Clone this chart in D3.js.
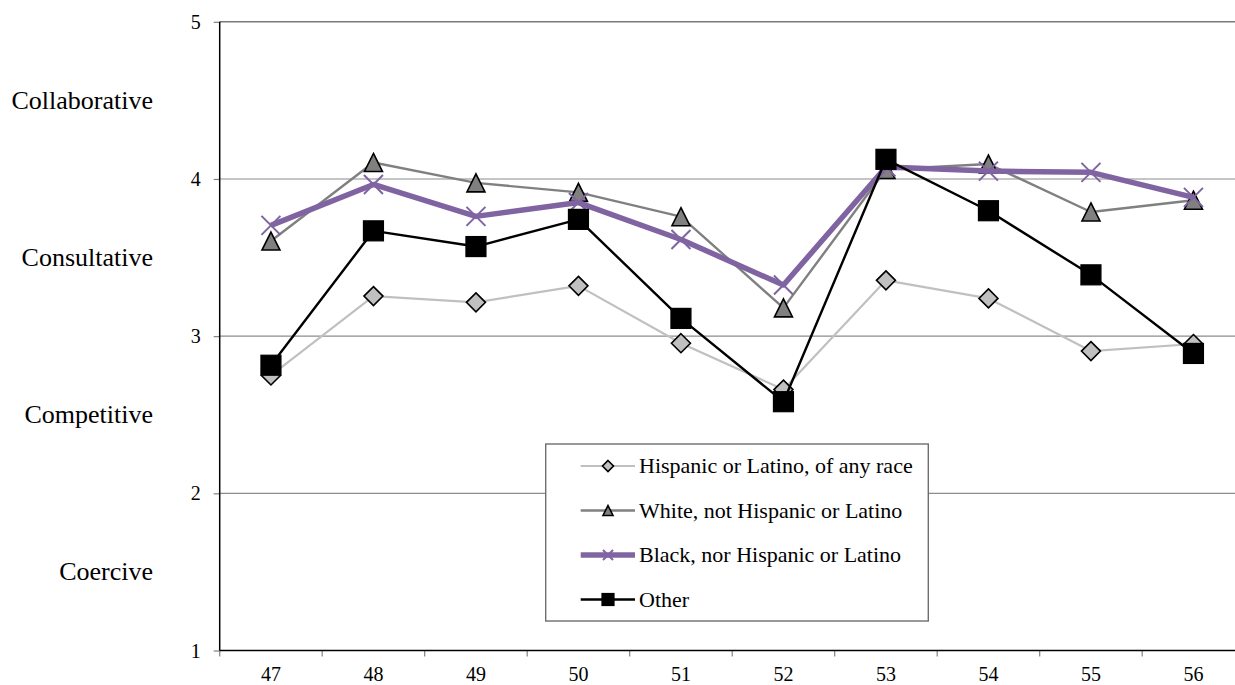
<!DOCTYPE html>
<html>
<head>
<meta charset="utf-8">
<script src="https://cdn.jsdelivr.net/npm/d3@7/dist/d3.min.js"></script>
<style>
  html, body { margin: 0; padding: 0; background: #fff; }
  svg { display: block; }
  text { font-family: "Liberation Serif", "Times New Roman", serif; fill: #000; }
</style>
</head>
<body>
<svg id="chart" width="1235" height="685"></svg>
<script>
const categories = ["47", "48", "49", "50", "51", "52", "53", "54", "55", "56"];
const hispanic = [2.75, 3.255, 3.215, 3.32, 2.955, 2.66, 3.355, 3.24, 2.905, 2.95];
const white    = [3.605, 4.105, 3.975, 3.915, 3.76, 3.18, 4.06, 4.095, 3.79, 3.865];
const black    = [3.705, 3.965, 3.762, 3.85, 3.615, 3.325, 4.076, 4.05, 4.042, 3.883];
const other    = [2.815, 3.67, 3.57, 3.743, 3.113, 2.583, 4.125, 3.798, 3.39, 2.89];
const yTicks = [1, 2, 3, 4, 5];
const styleLabels = [
  { label: "Collaborative", v: 4.5 },
  { label: "Consultative", v: 3.5 },
  { label: "Competitive", v: 2.5 },
  { label: "Coercive", v: 1.5 }
];
const seriesNames = [
  "Hispanic or Latino, of any race",
  "White, not Hispanic or Latino",
  "Black, nor Hispanic or Latino",
  "Other"
];

(function () {
const FONT = '"Liberation Serif", "Times New Roman", serif';
const svg = d3.select("#chart");
const mLeft = 219.7, mRight = 1244.7, mTop = 21.8, mBottom = 650.5;

const x = d3.scaleBand().domain(categories).range([mLeft, mRight]);
const y = d3.scaleLinear().domain([1, 5]).range([mBottom, mTop]);

// gridlines
svg.append("g").selectAll("line").data(yTicks.filter(d => d > 1)).join("line")
  .attr("x1", mLeft).attr("x2", 1235)
  .attr("y1", d => y(d)).attr("y2", d => y(d))
  .attr("stroke", d => d === 5 ? "#7a7a7a" : "#8c8c8c")
  .attr("stroke-width", d => d === 5 ? 1.6 : 1.2);

// y axis
const yAxis = d3.axisLeft(y).tickValues(yTicks).tickFormat(d3.format("d")).tickSize(6).tickPadding(13);
const gy = svg.append("g").attr("transform", `translate(${mLeft},0)`).call(yAxis);
gy.attr("font-family", FONT);
gy.select(".domain").remove();
gy.selectAll(".tick line").attr("stroke", "#808080").attr("stroke-width", 1.2);
gy.selectAll(".tick text").attr("font-size", 20).attr("dy", "0.33em")
  .style("font-family", FONT).attr("fill", "#000");

// x axis labels
const xAxis = d3.axisBottom(x).tickSize(0).tickPadding(16);
const gx = svg.append("g").attr("transform", `translate(0,${mBottom})`).call(xAxis);
gx.attr("font-family", FONT);
gx.select(".domain").remove();
gx.selectAll(".tick text").attr("font-size", 20)
  .style("font-family", FONT).attr("fill", "#000");

// x tick marks at band boundaries
const bounds = categories.map(c => x(c)).concat([x(categories[categories.length - 1]) + x.bandwidth()]);
svg.append("g").selectAll("line").data(bounds).join("line")
  .attr("x1", d => d).attr("x2", d => d)
  .attr("y1", mBottom).attr("y2", mBottom + 6)
  .attr("stroke", "#808080").attr("stroke-width", 1.2);

// axis lines
svg.append("line").attr("x1", mLeft).attr("x2", mLeft).attr("y1", mTop).attr("y2", mBottom)
  .attr("stroke", "#000").attr("stroke-width", 1.5);
svg.append("line").attr("x1", mLeft).attr("x2", 1235).attr("y1", mBottom).attr("y2", mBottom)
  .attr("stroke", "#000").attr("stroke-width", 1.5);

// style labels
svg.append("g").selectAll("text").data(styleLabels).join("text")
  .attr("x", 153).attr("y", d => y(d.v)).attr("dy", "0.33em")
  .attr("text-anchor", "end").attr("font-size", 26)
  .style("font-family", FONT)
  .text(d => d.label);

const cx = i => x(categories[i]) + x.bandwidth() / 2;

function marker(g, type, s) {
  if (type === "diamond") {
    g.append("path").attr("d", `M0,${-s}L${s},0L0,${s}L${-s},0Z`)
      .attr("fill", "#c0c0c0").attr("stroke", "#000").attr("stroke-width", 1.6);
  } else if (type === "triangle") {
    g.append("path").attr("d", `M0,${-s}L${s},${s}L${-s},${s}Z`)
      .attr("fill", "#808080").attr("stroke", "#000").attr("stroke-width", 1.6);
  } else if (type === "x") {
    g.append("path").attr("d", `M${-s},${-s}L${s},${s}M${-s},${s}L${s},${-s}`)
      .attr("stroke", "#8064a2").attr("stroke-width", 2).attr("fill", "none");
  } else if (type === "square") {
    g.append("rect").attr("x", -s).attr("y", -s).attr("width", 2 * s).attr("height", 2 * s)
      .attr("fill", "#000").attr("stroke", "#000").attr("stroke-width", 1.2);
  }
}

const series = [
  { name: seriesNames[0], values: hispanic, color: "#c0c0c0", width: 2.2, type: "diamond", size: 9.5, lsize: 5.5 },
  { name: seriesNames[1], values: white, color: "#808080", width: 2.4, type: "triangle", size: 9, lsize: 5 },
  { name: seriesNames[2], values: black, color: "#8064a2", width: 5.5, type: "x", size: 9.5, lsize: 5 },
  { name: seriesNames[3], values: other, color: "#000", width: 2.4, type: "square", size: 10, lsize: 6 }
];

const line = d3.line().x((d, i) => cx(i)).y(d => y(d));

series.forEach(s => {
  const g = svg.append("g");
  g.append("path").datum(s.values).attr("d", line)
    .attr("fill", "none").attr("stroke", s.color).attr("stroke-width", s.width)
    .attr("stroke-linejoin", "round");
  s.values.forEach((v, i) => {
    const mg = g.append("g").attr("transform", `translate(${cx(i)},${y(v)})`);
    marker(mg, s.type, s.size);
  });
});

// legend
const lg = svg.append("g");
lg.append("rect").attr("x", 545.7).attr("y", 444).attr("width", 382.6).attr("height", 177)
  .attr("fill", "#fff").attr("stroke", "#6e6e6e").attr("stroke-width", 1.4);
const rowY = [466, 510.5, 555, 599.5];
series.forEach((s, i) => {
  const ry = rowY[i];
  lg.append("line").attr("x1", 580.7).attr("x2", 635).attr("y1", ry).attr("y2", ry)
    .attr("stroke", s.color).attr("stroke-width", s.width);
  const mg = lg.append("g").attr("transform", `translate(608,${ry})`);
  marker(mg, s.type, s.lsize);
  lg.append("text").attr("x", 639).attr("y", ry).attr("dy", "0.33em")
    .attr("font-size", 22).style("font-family", FONT).text(s.name);
});
})();
</script>
</body>
</html>
